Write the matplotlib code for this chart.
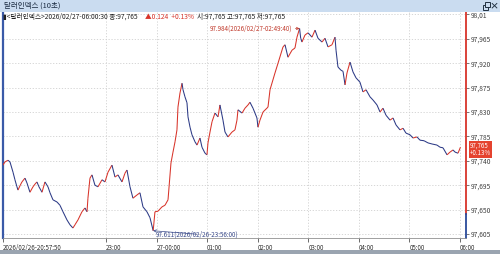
import numpy as np
import matplotlib
matplotlib.use('Agg')
import matplotlib.pyplot as plt
from matplotlib.collections import LineCollection
from matplotlib.patches import Rectangle
import matplotlib.transforms as mtrans

plt.rcParams['font.family'] = ['Noto Sans CJK KR', 'DejaVu Sans']

# 데이터 ################
# 2026/02/26 21:00 기준 경과 시간 [분]
minutes = [
    -2.17, 0.2, 3.7, 6.1, 9.7, 12.0, 14.4, 15.6, 18.0, 20.3,
    23.9, 26.3, 29.8, 33.4, 35.8, 38.1, 40.5, 44.1, 47.6, 51.2,
    53.6, 57.1, 61.9, 65.4, 69.0, 73.7, 77.3, 80.8, 83.2, 86.8,
    91.5, 95.1, 97.5, 98.6, 101.0, 103.4, 106.9, 110.5, 115.3, 118.8,
    122.4, 127.1, 130.7, 134.2, 139.0, 142.5, 144.9, 148.5, 152.0, 156.8,
    160.3, 163.9, 168.6, 172.2, 176.0, 178.1, 181.7, 186.4, 190.0, 193.6,
    197.1, 199.5, 201.9, 204.2, 205.4, 207.8, 210.2, 211.4, 213.7, 216.1,
    217.3, 219.7, 222.0, 225.6, 228.0, 231.5, 233.9, 237.5, 239.8, 241.0,
    243.4, 245.8, 249.3, 252.9, 255.2, 258.8, 261.2, 264.7, 269.5, 273.0,
    275.4, 276.6, 281.4, 284.9, 288.5, 290.8, 294.4, 299.1, 300.3, 302.7,
    306.3, 312.2, 314.6, 320.5, 324.1, 330.0, 332.4, 335.9, 340.7, 344.2,
    346.6, 349.67, 351.0, 352.5, 356.1, 359.7, 364.4, 368.0, 371.5, 376.3,
    379.8, 383.4, 388.1, 391.7, 392.9, 395.2, 398.8, 401.2, 403.6, 405.9,
    409.5, 413.0, 416.6, 421.3, 424.9, 428.5, 433.2, 436.8, 441.5, 445.1,
    448.6, 452.2, 457.0, 460.5, 464.1, 468.8, 472.4, 475.9, 480.7, 484.2,
    489.0, 492.5, 497.3, 502.0, 506.8, 512.7, 516.3, 519.8, 524.6, 528.1,
    531.7, 534.1, 537.6, 540.5]

price = [
    97.732, 97.738, 97.741, 97.738, 97.719, 97.705, 97.692, 97.686, 97.694, 97.701,
    97.708, 97.699, 97.682, 97.692, 97.697, 97.701, 97.692, 97.682, 97.701, 97.692,
    97.681, 97.668, 97.664, 97.658, 97.646, 97.631, 97.622, 97.616, 97.622, 97.631,
    97.646, 97.653, 97.646, 97.671, 97.708, 97.714, 97.695, 97.692, 97.705, 97.701,
    97.719, 97.732, 97.710, 97.714, 97.701, 97.717, 97.723, 97.692, 97.671, 97.677,
    97.681, 97.655, 97.646, 97.635, 97.611, 97.646, 97.647, 97.655, 97.658, 97.668,
    97.736, 97.756, 97.775, 97.797, 97.839, 97.865, 97.883, 97.871, 97.858, 97.847,
    97.821, 97.802, 97.788, 97.775, 97.769, 97.782, 97.765, 97.754, 97.751, 97.773,
    97.793, 97.812, 97.828, 97.821, 97.843, 97.815, 97.793, 97.784, 97.793, 97.797,
    97.815, 97.834, 97.828, 97.837, 97.843, 97.848, 97.837, 97.819, 97.802, 97.815,
    97.830, 97.839, 97.871, 97.902, 97.920, 97.950, 97.954, 97.931, 97.944, 97.948,
    97.968, 97.984, 97.966, 97.959, 97.972, 97.976, 97.968, 97.981, 97.966, 97.959,
    97.966, 97.950, 97.954, 97.968, 97.944, 97.913, 97.907, 97.905, 97.880, 97.902,
    97.922, 97.904, 97.893, 97.885, 97.867, 97.871, 97.858, 97.852, 97.843, 97.830,
    97.837, 97.824, 97.815, 97.819, 97.806, 97.797, 97.800, 97.791, 97.788, 97.782,
    97.784, 97.778, 97.777, 97.773, 97.771, 97.769, 97.765, 97.764, 97.751, 97.756,
    97.760, 97.756, 97.754, 97.765]

y_ticks = [97.605, 97.650, 97.695, 97.740, 97.785, 97.830, 97.875, 97.920, 97.965, 98.010]
y_tick_labels = ['97,605', '97,650', '97,695', '97,740', '97,785',
                 '97,830', '97,875', '97,920', '97,965', '98,01']
x_ticks = [-130 / 60, 120, 180, 240, 300, 360, 420, 480, 540]
x_tick_labels = ['2026/02/26-20:57:50', '23:00', '27-00:00', '01:00', '02:00',
                 '03:00', '04:00', '05:00', '06:00']

prev_close = 97.641
last_price = 97.765
last_change = '+0.13%'
max_label = '97.984(2026/02/27-02:49:40)'
min_label = '97.611(2026/02/26-23:56:00)'
title_text = '달러인덱스 (10초)'

##############################

RED = '#d8342a'
BLUE = '#2c3a86'

fig = plt.figure(figsize=(5, 2.54), dpi=100)
fig.patch.set_facecolor('white')

# 상단 타이틀 바
fig.patches.append(Rectangle((0, 242 / 254), 1, 12 / 254, transform=fig.transFigure,
                             facecolor='#cadcf0', edgecolor='none', zorder=0))
fig.text(0.008, 248 / 254, title_text, fontsize=5.4, va='center', ha='left', color='#1a2a40')
# 창 복원 아이콘 (도형)
for dx, dy in [(0.0, 0.0), (0.004, 0.008)]:
    fig.patches.append(Rectangle((0.966 + dx, 244.5 / 254 + dy), 0.010, 5 / 254,
                                 transform=fig.transFigure, facecolor='#cadcf0',
                                 edgecolor='#203040', linewidth=0.7, zorder=2))
fig.text(0.988, 248 / 254, '×', fontsize=6.5, va='center', ha='center', color='#203040',
         fontweight='bold')

ax = fig.add_axes([0.006, 16 / 254, 0.926, 226 / 254])
ax.set_facecolor('white')

x = np.array(minutes)
y = np.array(price)
pts = np.column_stack([x, y]).reshape(-1, 1, 2)
segs = np.concatenate([pts[:-1], pts[1:]], axis=1)
cols = [RED if d >= 0 else BLUE for d in np.diff(y)]
ax.add_collection(LineCollection(segs, colors=cols, linewidths=0.75, zorder=3))

ax.set_xlim(-130 / 60, 547.1)
ax.set_ylim(97.5976, 98.0144)

ax.set_yticks(y_ticks)
ax.set_yticklabels(y_tick_labels)
ax.yaxis.tick_right()
ax.set_xticks(x_ticks)
ax.set_xticklabels(x_tick_labels)
for lab in ax.get_xticklabels():
    lab.set_ha('left')
ax.tick_params(axis='y', labelsize=4.8, colors='#404040', length=2, width=0.5, pad=1.5)
ax.tick_params(axis='x', labelsize=4.5, colors='#303030', length=3, width=0.5, pad=1)

ax.grid(True, color='#d0d0d0', linestyle=(0, (1.5, 2)), linewidth=0.6)

for s in ['top', 'right']:
    ax.spines[s].set_visible(False)
ax.spines['left'].set_color('#3a5aa8')
ax.spines['left'].set_linewidth(1.6)
ax.spines['bottom'].set_color('#909090')
ax.spines['bottom'].set_linewidth(0.6)

# 오른쪽 축선: 전일 종가 위는 빨강, 아래는 파랑
tr = mtrans.blended_transform_factory(ax.transAxes, ax.transData)
ax.plot([1, 1], [prev_close, 98.0144], color=RED, lw=1.3, transform=tr, clip_on=False)
ax.plot([1, 1], [97.5976, prev_close], color='#2a4a9a', lw=1.3, transform=tr, clip_on=False)

# 현재가 박스
ax.annotate(f'{last_price:,.3f}'.replace('.', ',') + '\n' + last_change,
            xy=(1.0, last_price), xycoords=tr, xytext=(2.5, -1.5), textcoords='offset points',
            ha='left', va='center', fontsize=4.4, color='white', linespacing=0.9,
            bbox=dict(boxstyle='square,pad=0.15', fc='#e5432f', ec='none'), zorder=5)

# 최고/최저 표시
i_max = int(np.argmax(y))
i_min = int(np.argmin(y))
ax.annotate(max_label, xy=(x[i_max], y[i_max]), xytext=(-5, 0), textcoords='offset points',
            ha='right', va='center', fontsize=4.5, color='#c0392b',
            arrowprops=dict(arrowstyle='->', color='#c0392b', lw=0.5, shrinkA=0, shrinkB=0))
ax.annotate(min_label, xy=(x[i_min], y[i_min]), xytext=(2, -2.5), textcoords='offset points',
            ha='left', va='center', fontsize=4.5, color='#3a4a8a',
            arrowprops=dict(arrowstyle='->', color='#3a4a8a', lw=0.5, shrinkA=0, shrinkB=0))

# 정보 줄
info_y = 237 / 254
fig.text(0.006, info_y, '▮<달러인덱스>2026/02/27-06:00:30 종:97,765', fontsize=4.8,
         va='center', ha='left', color='#202020')
fig.text(0.290, info_y, '▲0.124  +0.13%', fontsize=4.8, va='center', ha='left', color=RED)
fig.text(0.394, info_y, '시:97,765 고:97,765 저:97,765', fontsize=4.8,
         va='center', ha='left', color='#202020')

# 하단 테두리
fig.patches.append(Rectangle((0, 0), 1, 4 / 254, transform=fig.transFigure,
                             facecolor='#9aa4b0', edgecolor='none'))

fig.savefig('out.png', dpi=100)
